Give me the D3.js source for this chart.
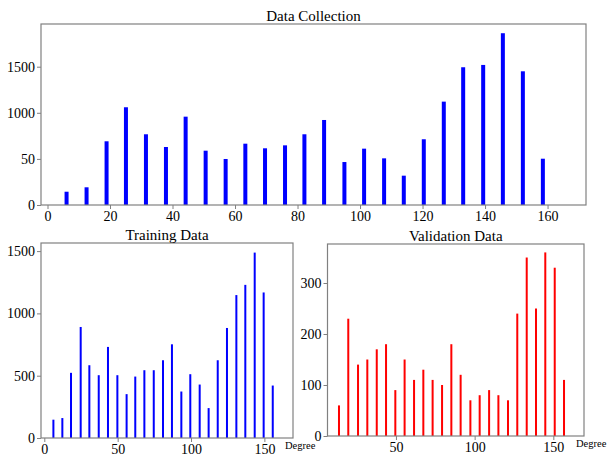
<!DOCTYPE html>
<html>
<head>
<meta charset="utf-8">
<script src="https://cdn.jsdelivr.net/npm/d3@7"></script>
<style>
  html, body { margin: 0; padding: 0; background: #fff; }
  svg { display: block; font-family: "Liberation Serif", "Times New Roman", serif; }
</style>
</head>
<body>
<svg id="chart" width="614" height="456"></svg>
<script>
// ---- Data ----
const topDegrees = [6.1,12.5,18.9,25.1,31.5,37.9,44.2,50.6,57,63.3,69.6,76,82.2,88.5,95,101.3,107.7,114,120.4,126.8,133,139.4,145.7,152.1,158.5];
const topCounts  = [144,192,691,1060,767,629,958,589,499,665,615,647,767,922,466,611,506,318,713,1121,1494,1519,1863,1450,502];

const trainDegrees = [6.2,12.3,18.2,24.8,30.7,37.1,43.4,49.8,56.1,62,68.2,74.6,80.9,87,93.4,99.5,105.9,112,118.2,124.5,130.9,137,143.4,149.5,155.7];
const trainCounts  = [147,160,523,891,584,504,731,504,352,493,544,544,624,752,373,512,429,240,624,883,1147,1229,1488,1168,421];

const valDegrees = [13.8,19.7,25.9,31.8,37.8,43.7,49.6,55.5,61.5,67.4,73.3,79.3,85.2,91.1,97.3,103.2,109.2,115.1,121.2,127.1,133.1,139,144.9,150.9,156.8];
const valCounts  = [60,230,140,150,170,180,90,150,110,130,110,100,180,120,70,80,90,80,70,240,350,250,360,330,110];

const topXTicks = [0,20,40,60,80,100,120,140,160];
const topYTicks = [0,500,1000,1500];
const topYTickLabels = ["0","50","1000","1500"];
const trainXTicks = [0,50,100,150];
const trainYTicks = [0,500,1000,1500];
const valXTicks = [50,100,150];
const valYTicks = [0,100,200,300];

const titles = ["Data Collection", "Training Data", "Validation Data"];
const xLabel = "Degree";

// ---- Drawing ----
const svg = d3.select("#chart");
svg.append("rect").attr("width",614).attr("height",456).attr("fill","#fff");

function panel(opt) {
  const g = svg.append("g");
  const x = d3.scaleLinear().domain(opt.xDomain).range([opt.left, opt.right]);
  const y = d3.scaleLinear().domain(opt.yDomain).range([opt.bottom, opt.top]);

  // bars
  g.selectAll("rect.bar").data(opt.xs).enter().append("rect")
    .attr("class","bar")
    .attr("x", (d) => x(d) - opt.barW/2)
    .attr("width", opt.barW)
    .attr("y", (d,i) => y(opt.ys[i]))
    .attr("height", (d,i) => y(0) - y(opt.ys[i]))
    .attr("fill", opt.color);

  // frame
  g.append("rect")
    .attr("x", opt.left).attr("y", opt.top)
    .attr("width", opt.right - opt.left).attr("height", opt.bottom - opt.top)
    .attr("fill","none").attr("stroke","#808080").attr("stroke-width",1.2);

  // axes
  const xa = g.append("g").attr("transform",`translate(0,${opt.bottom})`)
    .call(d3.axisBottom(x).tickValues(opt.xTicks).tickSize(4).tickPadding(2).tickFormat(d3.format("d")));
  const ya = g.append("g").attr("transform",`translate(${opt.left},0)`)
    .call(d3.axisLeft(y).tickValues(opt.yTicks).tickSize(4).tickPadding(2)
      .tickFormat((d,i) => opt.yLabels ? opt.yLabels[i] : d3.format("d")(d)));
  [xa, ya].forEach(a => {
    a.attr("font-family", null);
    a.select(".domain").remove();
    a.selectAll("line").attr("stroke","#808080");
    a.selectAll("text").attr("fill","#000").style("font-size","14px")
      .style("font-family",'"Liberation Serif", "Times New Roman", serif');
  });

  // title
  g.append("text")
    .attr("x", (opt.left + opt.right)/2).attr("y", opt.top - 3)
    .attr("text-anchor","middle")
    .style("font-size","15px").text(opt.title);

  if (opt.xLabel) {
    g.append("text")
      .attr("x", opt.right - 8).attr("y", opt.bottom + 11)
      .attr("text-anchor","start")
      .style("font-size","10.5px").text(opt.xLabel);
  }
}

panel({
  left: 41, right: 586, top: 24, bottom: 205,
  xDomain: [-2.08, 172.3], yDomain: [0, 1963],
  xs: topDegrees, ys: topCounts, color: "#0000ff", barW: 4,
  xTicks: topXTicks, yTicks: topYTicks, yLabels: topYTickLabels,
  title: titles[0]
});
panel({
  left: 41, right: 293, top: 243, bottom: 438,
  xDomain: [-2.25, 169.5], yDomain: [0, 1565],
  xs: trainDegrees, ys: trainCounts, color: "#0000ff", barW: 2,
  xTicks: trainXTicks, yTicks: trainYTicks,
  title: titles[1], xLabel: xLabel
});
panel({
  left: 327.5, right: 584, top: 244, bottom: 436,
  xDomain: [6.5, 169.5], yDomain: [0, 376.5],
  xs: valDegrees, ys: valCounts, color: "#ff0000", barW: 2,
  xTicks: valXTicks, yTicks: valYTicks,
  title: titles[2], xLabel: xLabel
});
</script>
</body>
</html>
